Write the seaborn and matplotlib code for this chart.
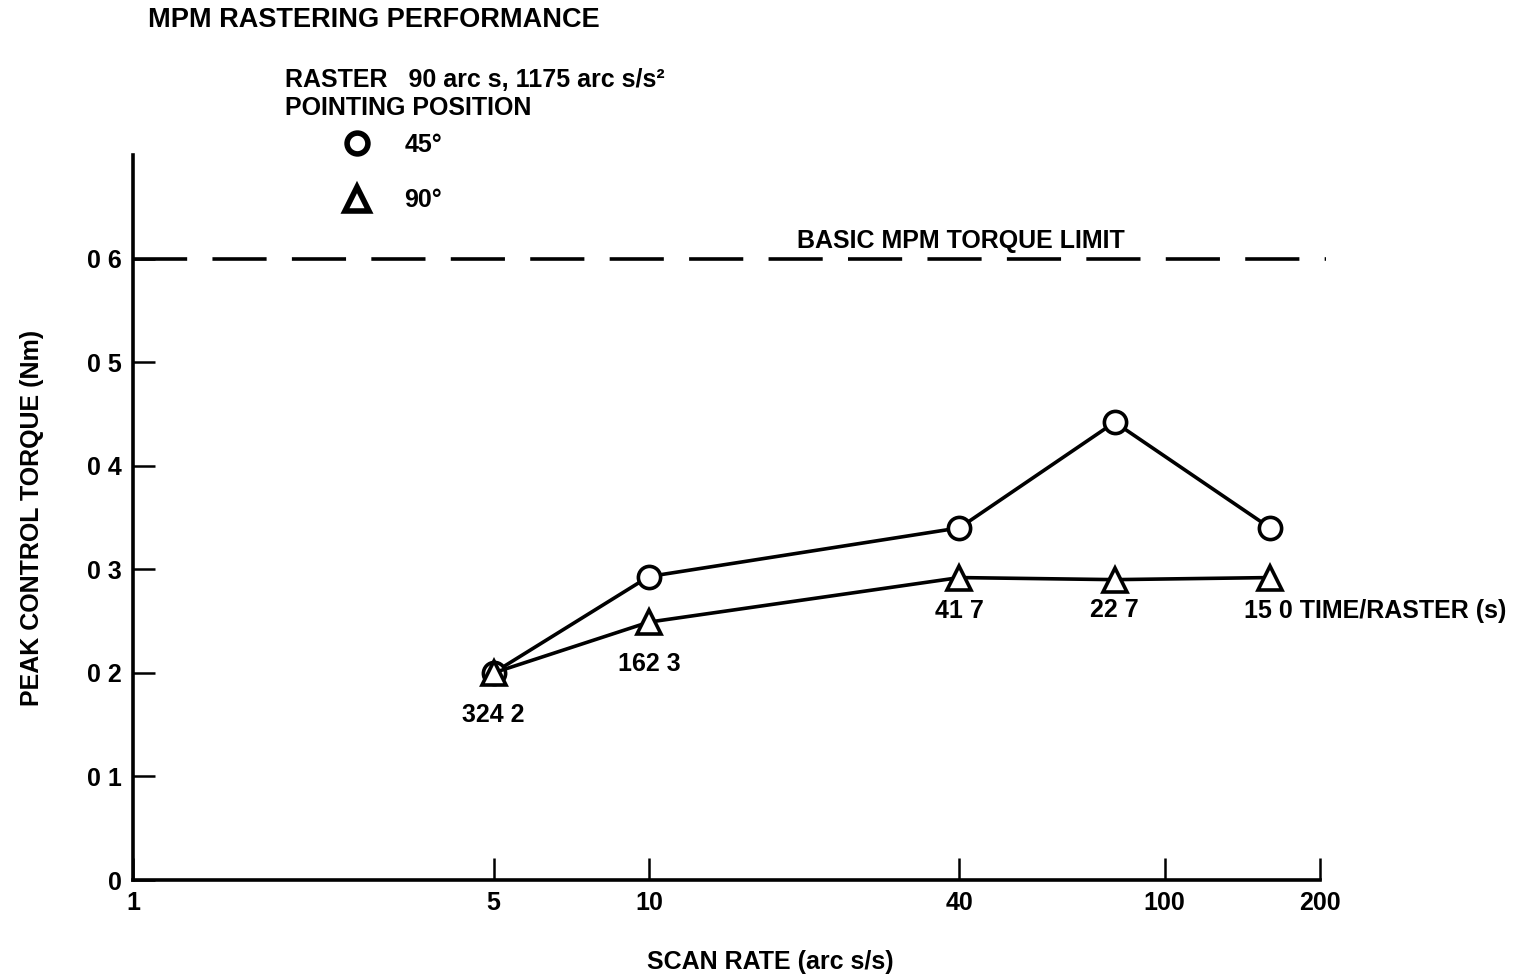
import matplotlib
matplotlib.use("Agg")
import matplotlib.pyplot as plt
from matplotlib.lines import Line2D
from matplotlib.ticker import NullLocator
import pandas as pd
import seaborn as sns

# values
scan_rate = [5, 10, 40, 80, 160]
torque_45 = [0.200, 0.293, 0.340, 0.442, 0.340]
torque_90 = [0.200, 0.249, 0.292, 0.290, 0.292]
time_labels = ["324 2", "162 3", "41 7", "22 7", "15 0 TIME/RASTER (s)"]
positions = ["45°", "90°"]
torque_limit = 0.6

x_ticks = [1, 5, 10, 40, 100, 200]
x_ticklabels = ["1", "5", "10", "40", "100", "200"]
y_ticks = [0, 0.1, 0.2, 0.3, 0.4, 0.5, 0.6]
y_ticklabels = ["0", "0 1", "0 2", "0 3", "0 4", "0 5", "0 6"]

df = pd.DataFrame({
    "scan_rate": scan_rate * 2,
    "torque": torque_45 + torque_90,
    "position": [positions[0]] * len(scan_rate) + [positions[1]] * len(scan_rate),
})

sns.set_style("ticks")
plt.rcParams["font.family"] = ["Liberation Sans", "DejaVu Sans"]
plt.rcParams["font.weight"] = "bold"
plt.rcParams["axes.labelweight"] = "bold"
plt.rcParams["font.size"] = 18
plt.rcParams["text.color"] = "black"
plt.rcParams["axes.labelcolor"] = "black"

fig = plt.figure(figsize=(15.22, 9.76), dpi=100)
ax = fig.add_axes([133 / 1522, 96 / 976, 1187 / 1522, 725 / 976])

markers = {"45°": "o", "90°": "^"}
msizes = {"45°": 16, "90°": 17}
for pos in positions:
    sub = df[df["position"] == pos]
    sns.lineplot(data=sub, x="scan_rate", y="torque", ax=ax, color="black",
                 lw=2.6, marker=markers[pos], markersize=msizes[pos],
                 mfc="white", mec="black", mew=2.6, zorder=3)

# torque limit
ax.axhline(torque_limit, xmax=1.005, color="black", lw=2.6,
           ls=(0, (15, 7)), clip_on=False)
ax.annotate("BASIC MPM TORQUE LIMIT", xy=(0.559, torque_limit),
            xycoords=("axes fraction", "data"), xytext=(0, 13),
            textcoords="offset points", ha="left", va="center")

# time per raster labels, under the 90 deg points
offsets = [(0, -30), (0, -30), (0, -24), (0, -22), (-19, -24)]
aligns = ["center", "center", "center", "center", "left"]
for x, y, lab, off, ha in zip(scan_rate, torque_90, time_labels, offsets, aligns):
    ax.annotate(lab, xy=(x, y), xytext=off, textcoords="offset points",
                ha=ha, va="center")

ax.set_xscale("log")
ax.set_xlim(1, 200)
ax.set_ylim(0, 0.7)
ax.set_xticks(x_ticks, x_ticklabels)
ax.xaxis.set_minor_locator(NullLocator())
ax.set_yticks(y_ticks, y_ticklabels)
ax.tick_params(direction="in", length=16, width=1.8, pad=8, labelsize=18,
               colors="black")
for side in ["top", "right"]:
    ax.spines[side].set_visible(False)
for side in ["left", "bottom"]:
    ax.spines[side].set_linewidth(2.6)
    ax.spines[side].set_color("black")

ax.set_xlabel("SCAN RATE (arc s/s)")
ax.set_ylabel("PEAK CONTROL TORQUE (Nm)")
ax.xaxis.set_label_coords(0.537, -0.097)
ax.yaxis.set_label_coords(-0.075, 0.5)

fig.text(148 / 1522, 1 - 20 / 976, "MPM RASTERING PERFORMANCE",
         ha="left", va="center", fontsize=19.5)
fig.text(285 / 1522, 1 - 80 / 976, "RASTER   90 arc s, 1175 arc s/s²",
         ha="left", va="center")
fig.text(285 / 1522, 1 - 108 / 976, "POINTING POSITION",
         ha="left", va="center")

handles = [Line2D([], [], ls="none", marker="o", ms=15, mfc="white",
                  mec="black", mew=4),
           Line2D([], [], ls="none", marker="^", ms=17, mfc="white",
                  mec="black", mew=4)]
fig.legend(handles, positions, loc="upper left",
           bbox_to_anchor=(342 / 1522, 1 - 133 / 976), frameon=False,
           handlelength=1.2, handletextpad=1.3, labelspacing=1.25,
           borderpad=0, borderaxespad=0)

fig.savefig("out.png", dpi=100)
